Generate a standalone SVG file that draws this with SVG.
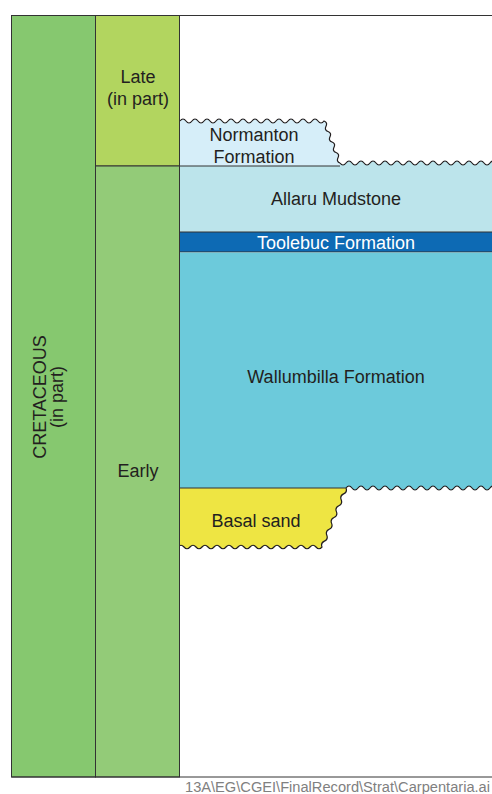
<svg xmlns="http://www.w3.org/2000/svg" width="492" height="794" viewBox="0 0 492 794">
<style>
.t{font-family:"Liberation Sans",Arial,sans-serif;font-size:18px;fill:#231f20;text-anchor:middle}
.w{fill:#ffffff}
.ln{stroke:#333;stroke-width:1;fill:none}
.wv{stroke:#231f20;stroke-width:1.2;fill:none}
</style>
<rect x="0" y="0" width="492" height="794" fill="#ffffff"/>
<g id="normanton">
<path d="M180,166 L180,121 q3,-4 6,0 t6,0 t6,0 t6,0 t6,0 t6,0 t6,0 t6,0 t6,0 t6,0 t6,0 t6,0 t6,0 t6,0 t6,0 t6,0 t6,0 t6,0 t6,0 t6,0 t6,0 t6,0 t6,0 t6,0 q3.8,1.55 2,5.25 t2,5.25 t2,5.25 t2,5.25 t2,5.25 t2,5.25 t2,5.25 t2,5.25 L340,166 Z" fill="#d6eef9"/>
<path class="wv" d="M180,121 q3,-4 6,0 t6,0 t6,0 t6,0 t6,0 t6,0 t6,0 t6,0 t6,0 t6,0 t6,0 t6,0 t6,0 t6,0 t6,0 t6,0 t6,0 t6,0 t6,0 t6,0 t6,0 t6,0 t6,0 t6,0 q3.8,1.55 2,5.25 t2,5.25 t2,5.25 t2,5.25 t2,5.25 t2,5.25 t2,5.25 t2,5.25"/>
<text class="t" x="254" y="141">Normanton</text>
<text class="t" x="254" y="163">Formation</text>
</g>
<g id="allaru">
<path d="M180,166 L340,166 L340,163 q3,4 6,0 t6,0 t6,0 t6,0 t6,0 t6,0 t6,0 t6,0 t6,0 t6,0 t6,0 t6,0 t6,0 t6,0 t6,0 t6,0 t6,0 t6,0 t6,0 t6,0 t6,0 t6,0 t6,0 t6,0 t6,0 t6,0 L496,232 L180,232 Z" fill="#bce4eb"/>
<path class="wv" d="M340,163 q3,4 6,0 t6,0 t6,0 t6,0 t6,0 t6,0 t6,0 t6,0 t6,0 t6,0 t6,0 t6,0 t6,0 t6,0 t6,0 t6,0 t6,0 t6,0 t6,0 t6,0 t6,0 t6,0 t6,0 t6,0 t6,0 t6,0"/>
<line class="ln" x1="180" y1="166" x2="340" y2="166"/>
<text class="t" x="336" y="205">Allaru Mudstone</text>
</g>
<g id="toolebuc">
<rect x="180" y="232" width="312" height="20" fill="#0d6ab4"/>
<line class="ln" x1="180" y1="232" x2="492" y2="232"/>
<line class="ln" x1="180" y1="252" x2="492" y2="252"/>
<text class="t w" x="336" y="249">Toolebuc Formation</text>
</g>
<g id="wallumbilla">
<path d="M180,252.5 L492,252.5 L496,488 q-3,-4 -6,0 t-6,0 t-6,0 t-6,0 t-6,0 t-6,0 t-6,0 t-6,0 t-6,0 t-6,0 t-6,0 t-6,0 t-6,0 t-6,0 t-6,0 t-6,0 t-6,0 t-6,0 t-6,0 t-6,0 t-6,0 t-6,0 t-6,0 t-6,0 t-6,0 L180,488 Z" fill="#6ccadb"/>
<path class="wv" d="M346,488 q3,-4 6,0 t6,0 t6,0 t6,0 t6,0 t6,0 t6,0 t6,0 t6,0 t6,0 t6,0 t6,0 t6,0 t6,0 t6,0 t6,0 t6,0 t6,0 t6,0 t6,0 t6,0 t6,0 t6,0 t6,0 t6,0"/>
<text class="t" x="336" y="383">Wallumbilla Formation</text>
</g>
<g id="basal-sand">
<path d="M180,488 L346,488 q1.6,4.05 -2.4,5.9 t-2.4,5.9 t-2.4,5.9 t-2.4,5.9 t-2.4,5.9 t-2.4,5.9 t-2.4,5.9 t-2.4,5.9 t-2.4,5.9 t-2.4,5.9 q-3,3.5 -6,0 t-6,0 t-6,0 t-6,0 t-6,0 t-6,0 t-6,0 t-6,0 t-6,0 t-6,0 t-6,0 t-6,0 t-6,0 t-6,0 t-6,0 t-6,0 t-6,0 t-6,0 t-6,0 t-6,0 t-6,0 t-6,0 t-6,0 t-6,0 Z" fill="#eee543"/>
<path class="wv" d="M346,488 q1.6,4.05 -2.4,5.9 t-2.4,5.9 t-2.4,5.9 t-2.4,5.9 t-2.4,5.9 t-2.4,5.9 t-2.4,5.9 t-2.4,5.9 t-2.4,5.9 t-2.4,5.9 q-3,3.5 -6,0 t-6,0 t-6,0 t-6,0 t-6,0 t-6,0 t-6,0 t-6,0 t-6,0 t-6,0 t-6,0 t-6,0 t-6,0 t-6,0 t-6,0 t-6,0 t-6,0 t-6,0 t-6,0 t-6,0 t-6,0 t-6,0 t-6,0 t-6,0"/>
<line class="ln" x1="180" y1="488" x2="346" y2="488"/>
<text class="t" x="256" y="527">Basal sand</text>
</g>
<g id="cretaceous">
<rect x="11.5" y="15.5" width="84" height="761.5" fill="#86c86f" stroke="#333" stroke-width="1"/>
<text class="t" transform="translate(46,397) rotate(-90)">CRETACEOUS</text>
<text class="t" transform="translate(63,397) rotate(-90)">(in part)</text>
</g>
<g id="late">
<rect x="95.5" y="15.5" width="84" height="150.5" fill="#b2d55f" stroke="#333" stroke-width="1"/>
<text class="t" x="138" y="83">Late</text>
<text class="t" x="138" y="105">(in part)</text>
</g>
<g id="early">
<rect x="95.5" y="166" width="84" height="611" fill="#93cb78" stroke="#333" stroke-width="1"/>
<text class="t" x="138" y="477">Early</text>
</g>
<g id="frame">
<line class="ln" x1="11.5" y1="15.5" x2="492" y2="15.5"/>
<line class="ln" x1="11.5" y1="777" x2="492" y2="777"/>
</g>
<text x="185" y="792" textLength="305" lengthAdjust="spacingAndGlyphs" style="font-family:'Liberation Sans',Arial,sans-serif;font-size:14px;fill:#808080">13A\EG\CGEI\FinalRecord\Strat\Carpentaria.ai</text>
</svg>
